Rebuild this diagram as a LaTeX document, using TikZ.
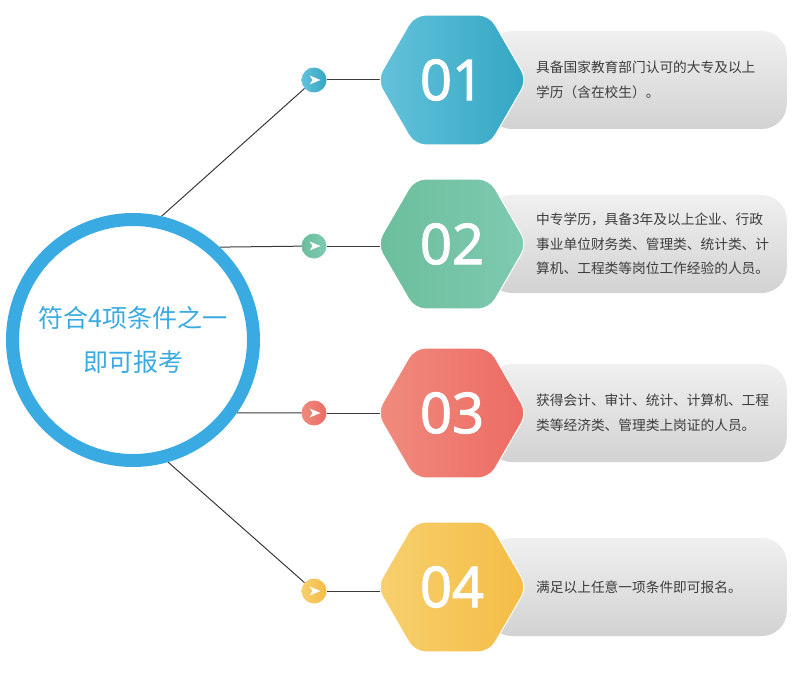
\documentclass[tikz,border=0pt]{standalone}
\usepackage{fontspec}
\setmainfont{Noto Sans CJK SC}
\newfontfamily\numfont[FakeBold=2]{Open Sans}
\usetikzlibrary{positioning,shapes.geometric,backgrounds}

\definecolor{ringblue}{HTML}{3AABE2}
\definecolor{bluel}{HTML}{64C2DB}
\definecolor{bluer}{HTML}{33A6C3}
\definecolor{greenl}{HTML}{6BBE9B}
\definecolor{greenr}{HTML}{7FCAB1}
\definecolor{redl}{HTML}{F08B7E}
\definecolor{redr}{HTML}{EC6B63}
\definecolor{yellowl}{HTML}{F7D06F}
\definecolor{yellowr}{HTML}{F4BC45}
\definecolor{cardtop}{HTML}{F0F0F0}
\definecolor{cardbot}{HTML}{D2D2D2}
\definecolor{infogray}{HTML}{3D3D3D}
\definecolor{linegray}{HTML}{3A3A3A}

\tikzset{
  hub/.style={circle, draw=ringblue, line width=13pt, minimum size=241pt, inner sep=0pt,
    align=center, text=ringblue, font=\fontsize{25}{44}\selectfont},
  navdot/.style={circle, minimum size=25pt, inner sep=0pt},
  hexa/.style={regular polygon, regular polygon sides=6, minimum size=150pt, inner sep=0pt,
    rounded corners=11pt, draw=white, line width=1pt, text=white,
    font=\numfont\fontsize{56}{56}\selectfont},
  card/.style={rectangle, rounded corners=25pt, minimum width=300pt, minimum height=98pt,
    anchor=east, top color=cardtop, bottom color=cardbot},
  info/.style={anchor=west, align=left, inner sep=0pt, text=infogray,
    font=\fontsize{13.7}{24.5}\selectfont},
  wire/.style={draw=linegray, line width=1pt},
  navarrow/.pic={\fill[white] (-4.5,-4.5) -- (6.5,0) -- (-4.5,4.5) -- (-1.5,0) -- cycle;}
}

\begin{document}
\begin{tikzpicture}[x=1pt, y=-1pt]
\useasboundingbox (0,0) rectangle (792,674);
\def\xm{133}
\def\ym{340}
\def\xs{314}
\def\xh{452}
\def\xc{787}
\def\xt{536}

\def\ya{80}
\def\yb{244}
\def\yc{413}
\def\yd{587}
\def\db{246}
\def\dd{591}

\node[hub] (hub) at (\xm,\ym) {符合4项条件之一\\即可报考};

\node[navdot, left color=bluel, right color=bluer] (s1) at (\xs,\ya) {};
\node[navdot, left color=greenl, right color=greenr] (s2) at (\xs,\db) {};
\node[navdot, left color=redl, right color=redr] (s3) at (\xs,\yc) {};
\node[navdot, left color=yellowl, right color=yellowr] (s4) at (\xs,\dd) {};
\pic at (s1) {navarrow};
\pic at (s2) {navarrow};
\pic at (s3) {navarrow};
\pic at (s4) {navarrow};

\node[card] (c1) at (\xc,\ya) {};
\node[card] (c2) at (\xc,\yb) {};
\node[card] (c3) at (\xc,\yc) {};
\node[card] (c4) at (\xc,\yd) {};

\node[hexa, left color=bluel, right color=bluer] (h1) at (\xh,\ya) {01};
\node[hexa, left color=greenl, right color=greenr] (h2) at (\xh,\yb) {02};
\node[hexa, left color=redl, right color=redr] (h3) at (\xh,\yc) {03};
\node[hexa, left color=yellowl, right color=yellowr] (h4) at (\xh,\yd) {04};

\node[info] (t1) at (\xt,\ya) {具备国家教育部门认可的大专及以上\\学历（含在校生）。};
\node[info] (t2) at (\xt,\yb) {中专学历，具备3年及以上企业、行政\\事业单位财务类、管理类、统计类、计\\算机、工程类等岗位工作经验的人员。};
\node[info] (t3) at (\xt,\yc) {获得会计、审计、统计、计算机、工程\\类等经济类、管理类上岗证的人员。};
\node[info] (t4) at (\xt,\yd) {满足以上任意一项条件即可报名。};

\begin{scope}[on background layer]
\draw[wire] (hub.77.8) -- (s1);
\draw[wire] (hub.47.7) -- (s2);
\draw[wire] (hub.-35.1) -- (s3);
\draw[wire] (hub.-74.1) -- (s4);
\draw[wire] (s1) -- (s1 -| h1.center);
\draw[wire] (s2) -- (s2 -| h2.center);
\draw[wire] (s3) -- (s3 -| h3.center);
\draw[wire] (s4) -- (s4 -| h4.center);
\end{scope}
\end{tikzpicture}
\end{document}
